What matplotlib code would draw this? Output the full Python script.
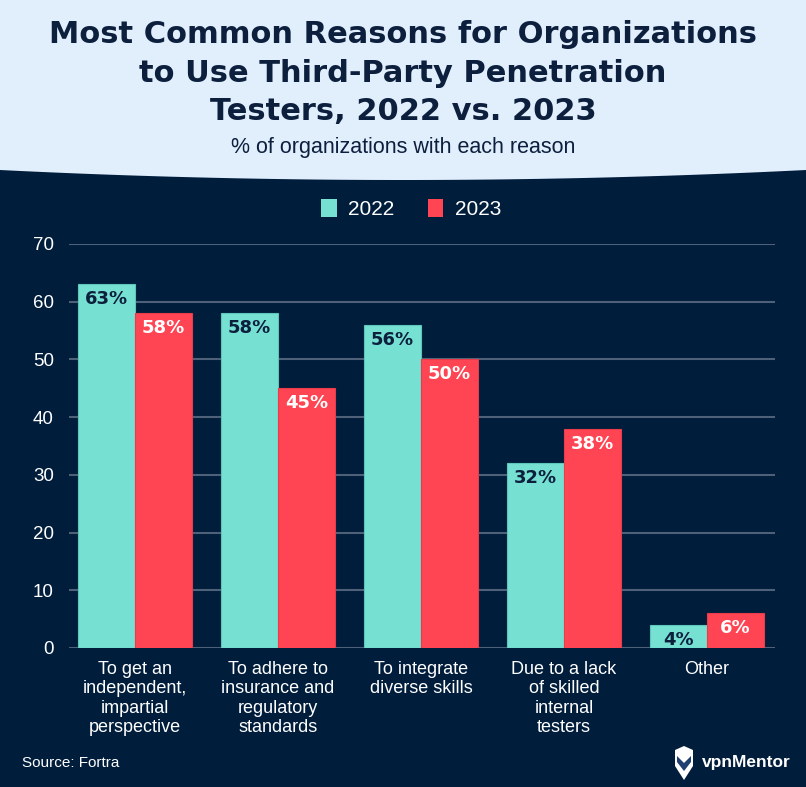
import numpy as np
import matplotlib
matplotlib.use("Agg")
import matplotlib.pyplot as plt
from matplotlib.patches import Polygon, Patch

# data
categories = [
    "To get an\nindependent,\nimpartial\nperspective",
    "To adhere to\ninsurance and\nregulatory\nstandards",
    "To integrate\ndiverse skills",
    "Due to a lack\nof skilled\ninternal\ntesters",
    "Other",
]
values_2022 = [63, 58, 56, 32, 4]
values_2023 = [58, 45, 50, 38, 6]
series_names = ["2022", "2023"]
yticks = [0, 10, 20, 30, 40, 50, 60, 70]

NAVY = "#001D3C"
HEADER = "#E1EEFC"
TITLE = "#0C1F3D"
TEAL = "#76E0D2"
RED = "#FF4553"
GRID = "#4F6079"

plt.rcParams["font.family"] = ["Liberation Sans", "DejaVu Sans"]

W, H = 806, 787
fig = plt.figure(figsize=(W / 100, H / 100), dpi=100, facecolor=NAVY)


def px(x, y):
    # pixel coords -> figure fraction
    return (x / W, 1 - y / H)


# header band with curved bottom
xs = np.linspace(0, W, 100)
curve = 170 + 10 * (1 - ((xs - W / 2) / (W / 2)) ** 2)
pts = [px(0, 0), px(W, 0)] + [px(x, y) for x, y in zip(xs[::-1], curve[::-1])]
fig.add_artist(Polygon(pts, closed=True, transform=fig.transFigure,
                       facecolor=HEADER, edgecolor="none", zorder=0))

fig.text(0.5, 1 - 73 / H,
         "Most Common Reasons for Organizations\nto Use Third-Party Penetration\nTesters, 2022 vs. 2023",
         ha="center", va="center", fontsize=22, fontweight="bold",
         family="DejaVu Sans", color=TITLE, linespacing=1.42)
fig.text(0.5, 1 - 148 / H, "% of organizations with each reason",
         ha="center", va="center", fontsize=15.5, color=TITLE)

# axes
ax = fig.add_axes([69 / W, 1 - 648 / H, (775 - 69) / W, (648 - 244) / H])
ax.set_facecolor(NAVY)
x = np.arange(len(categories))
w = 0.4
b1 = ax.bar(x - w / 2, values_2022, w, color=TEAL, edgecolor="#5FC7B9",
            linewidth=0.8, zorder=3)
b2 = ax.bar(x + w / 2, values_2023, w, color=RED, edgecolor="#E83C4A",
            linewidth=0.8, zorder=3)

for bars, vals, col in [(b1, values_2022, TITLE), (b2, values_2023, "white")]:
    for rect, v in zip(bars, vals):
        ax.annotate(f"{v}%", (rect.get_x() + rect.get_width() / 2, v),
                    xytext=(0, -15), textcoords="offset pixels",
                    ha="center", va="center", fontsize=13, fontweight="bold",
                    family="DejaVu Sans", color=col, zorder=4)

ax.set_xlim(-0.46, 4.475)
ax.set_ylim(0, 70)
ax.set_yticks(yticks)
ax.set_xticks(x)
ax.set_xticklabels(categories, linespacing=1.2)
ax.tick_params(axis="y", length=0, pad=11, labelcolor="white", labelsize=13.5)
ax.tick_params(axis="x", length=0, pad=9, labelcolor="white", labelsize=13)
ax.grid(axis="y", color=GRID, linewidth=1.5, zorder=0)
for s in ax.spines.values():
    s.set_visible(False)

# legend
handles = [Patch(facecolor=TEAL, label=series_names[0]),
           Patch(facecolor=RED, label=series_names[1])]
fig.legend(handles=handles, loc="center", bbox_to_anchor=px(W / 2 + 8, 209),
           ncol=2, frameon=False, fontsize=15, labelcolor="white",
           handlelength=0.75, handleheight=1.0, handletextpad=0.55,
           columnspacing=1.6)

# footer
fig.text(22 / W, 1 - 763 / H, "Source: Fortra", ha="left", va="center",
         fontsize=11, color="white")

# vpnMentor logo (simple shield + wordmark)
shield = [px(675, 750), px(684, 746), px(693, 750), px(693, 766),
          px(684, 780), px(675, 766)]
fig.add_artist(Polygon(shield, closed=True, transform=fig.transFigure,
                       facecolor="white", edgecolor="none"))
inner = [px(677, 756), px(684, 763), px(691, 756), px(691, 762),
         px(684, 771), px(677, 762)]
fig.add_artist(Polygon(inner, closed=True, transform=fig.transFigure,
                       facecolor="#1F3F73", edgecolor="none"))
fig.text(702 / W, 1 - 762 / H, "vpnMentor", ha="left", va="center",
         fontsize=12.5, fontweight="bold", color="white")

fig.savefig("out.png", dpi=100, facecolor=NAVY)
